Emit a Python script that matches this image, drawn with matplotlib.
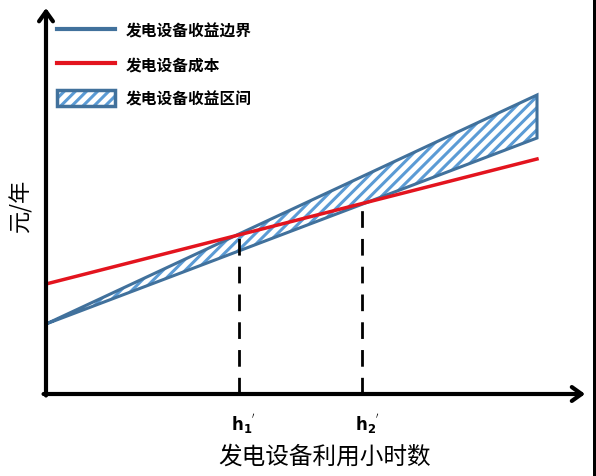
import numpy as np
import matplotlib
matplotlib.use('Agg')
import matplotlib.pyplot as plt
from matplotlib.lines import Line2D
from matplotlib.patches import Patch, Rectangle
from matplotlib.legend_handler import HandlerTuple

plt.rcParams['font.family'] = ['Noto Sans CJK SC', 'DejaVu Sans']
plt.rcParams['hatch.linewidth'] = 2.2

# data (arbitrary units)
hours = [0.0, 10.0]
revenue_upper = [7.0, 29.9]
revenue_lower = [7.0, 25.6]
cost = [11.0, 23.5]
h_marks = [3.93, 6.44]
h_labels = [r"$\mathbf{h_1}^{'}$", r"$\mathbf{h_2}^{'}$"]
legend_labels = ['发电设备收益边界', '发电设备成本', '发电设备收益区间']
x_label = '发电设备利用小时数'
y_label = '元/年'

blue_edge = '#41719c'
blue_hatch = '#5b9bd5'
red = '#e3141e'

fig = plt.figure(figsize=(5.96, 4.77), dpi=100)
ax = fig.add_axes([0, 0, 1, 1])
# 1 x unit = 49.1 px, 1 y unit = 10 px, origin at pixel (46, 395)
ax.set_xlim(-46 / 49.1, (596 - 46) / 49.1)
ax.set_ylim(-(477 - 395) / 10, 395 / 10)
ax.axis('off')

# revenue band
ax.fill_between(hours, revenue_lower, revenue_upper, facecolor='white',
                edgecolor=blue_hatch, hatch='///', linewidth=0)
band_x = hours + hours[::-1] + [hours[0]]
band_y = revenue_upper + revenue_lower[::-1] + [revenue_upper[0]]
ax.plot(band_x, band_y, color=blue_edge, lw=2.2, solid_joinstyle='miter')

# cost line
ax.plot(hours, cost, color=red, lw=2.5)

# dashed markers
for h, lab in zip(h_marks, h_labels):
    top = np.interp(h, hours, cost)
    ax.plot([h, h], [0, top], color='black', lw=2, dashes=(6, 4))
    ax.text(h + 0.1, -2.9, lab, ha='center', va='center', fontsize=12,
            fontweight='bold')

# axes with arrows
arrow = dict(arrowstyle='->,head_length=0.7,head_width=0.5', lw=3,
             color='black', shrinkA=0, shrinkB=0)
ax.annotate('', xy=(10.98, 0), xytext=(-0.05, 0), arrowprops=arrow)
ax.annotate('', xy=(0, 38.6), xytext=(0, -0.15), arrowprops=arrow)

ax.text(5.68, -6.2, x_label, ha='center', va='center', fontsize=17)
ax.text(-0.52, 19.0, y_label, ha='center', va='center', fontsize=16,
        rotation=90)

# legend
handles = [Line2D([], [], color=blue_edge, lw=3),
           Line2D([], [], color=red, lw=3),
           (Patch(facecolor='white', edgecolor=blue_hatch, hatch='///', lw=0),
            Patch(fill=False, edgecolor=blue_edge, lw=2.5))]
fig.legend(handles, legend_labels, loc='upper left',
           bbox_to_anchor=(57 / 596, 1 - 23 / 477), bbox_transform=fig.transFigure,
           frameon=False, borderpad=0, borderaxespad=0,
           handlelength=3.7, handleheight=1.15, handletextpad=0.65,
           labelspacing=1.15, prop={'weight': 'bold', 'size': 11.3},
           handler_map={tuple: HandlerTuple(ndivide=1, pad=0)})

# dark strip on the right edge of the picture
fig.add_artist(Rectangle((593 / 596, 0), 3 / 596, 1, transform=fig.transFigure,
                         color='black', lw=0))

fig.savefig('out.png', dpi=100)
